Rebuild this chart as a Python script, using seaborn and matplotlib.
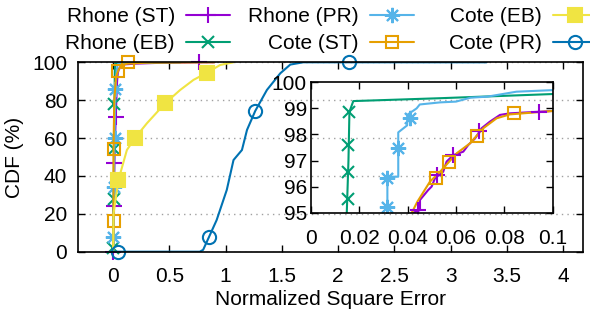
import matplotlib
matplotlib.use("Agg")
import matplotlib.pyplot as plt
from matplotlib.lines import Line2D
from matplotlib.ticker import FuncFormatter
import seaborn as sns

# ---------------- data ----------------
series_names = ["Rhone (ST)", "Rhone (EB)", "Rhone (PR)", "Cote (ST)", "Cote (EB)", "Cote (PR)"]

# CDF curves: x = normalized square error, y = CDF (%)
rhone_st_x = [0, 0.004, 0.012, 0.025, 0.035, 0.0423, 0.0451, 0.0451, 0.0485, 0.0499, 0.0513,
              0.0547, 0.0561, 0.0589, 0.063, 0.0651, 0.0679, 0.0706, 0.074, 0.0782, 0.0823,
              0.1, 0.2, 0.4, 0.76, 0.9]
rhone_st_y = [0, 20, 50, 75, 90, 95.0, 95.1, 95.49, 95.87, 96.0, 96.32, 96.57, 96.96, 97.21,
              97.34, 97.6, 97.85, 98.24, 98.49, 98.75, 98.81, 98.9, 99.3, 99.7, 100, 100]

rhone_eb_x = [0, 0.003, 0.008, 0.012, 0.0148, 0.0155, 0.0159, 0.0175, 0.0534, 0.1, 0.2, 0.4, 0.6]
rhone_eb_y = [0, 25, 55, 80, 95, 97, 98.87, 99.28, 99.39, 99.55, 99.75, 99.9, 100]

rhone_pr_x = [0, 0.002, 0.006, 0.012, 0.02, 0.0316, 0.0316, 0.0361, 0.0361, 0.0398, 0.0398,
              0.0437, 0.045, 0.0534, 0.06, 0.066, 0.073, 0.085, 0.1, 0.2, 0.35]
rhone_pr_y = [0, 8, 34, 60, 86, 95.0, 96.38, 96.38, 98.08, 98.35, 98.75, 99.0, 99.15, 99.23,
              99.26, 99.41, 99.45, 99.64, 99.7, 99.9, 100]

cote_st_x = [0, 0.003, 0.003, 0.01, 0.025, 0.035, 0.0417, 0.044, 0.0492, 0.0534, 0.0603,
             0.0658, 0.0713, 0.0768, 0.0823, 0.1, 0.13, 0.3, 0.9]
cote_st_y = [0, 16, 54, 80, 92, 94, 95.0, 95.42, 96.19, 96.57, 97.28, 97.66, 98.24, 98.62,
             98.77, 98.9, 99.3, 99.8, 100]

cote_eb_x = [0, 0.003, 0.047, 0.122, 0.196, 0.3, 0.463, 0.596, 0.714, 0.834, 0.952, 1.07]
cote_eb_y = [0, 20, 37.9, 53.7, 60.2, 67.8, 78.4, 85.4, 90.7, 94.5, 98.6, 100]

cote_pr_x = [0, 0.77, 0.80, 0.85, 0.92, 1.01, 1.07, 1.145, 1.19, 1.263, 1.367, 1.486, 1.575,
             1.69, 2.1, 3.32]
cote_pr_y = [0, 0, 1, 7.5, 16.7, 32.6, 48.4, 53.7, 64.3, 74.3, 85.4, 94.2, 98.8, 100, 100, 100]

# point markers shown on the main plot
rhone_st_mx = [0.0, 0.005, 0.011, 0.023, 0.76]
rhone_st_my = [0, 24, 47, 71, 100]
rhone_eb_mx = [0.0, 0.003, 0.007, 0.011]
rhone_eb_my = [2, 28, 54, 78]
rhone_pr_mx = [0.002, 0.006, 0.012, 0.02]
rhone_pr_my = [8, 34, 60, 86]
cote_st_mx = [0.003, 0.003, 0.04, 0.13]
cote_st_my = [16, 54, 95.5, 100]
cote_eb_mx = [0.047, 0.196, 0.463, 0.834]
cote_eb_my = [37.9, 60.2, 78.4, 94.5]
cote_pr_mx = [0.047, 0.85, 1.263, 2.1]
cote_pr_my = [0, 7.5, 74.3, 100]

# point markers shown on the inset
rhone_st_ix = [0.0444, 0.052, 0.0589, 0.0695, 0.0945]
rhone_st_iy = [95.1, 96.45, 97.2, 98.15, 98.87]
rhone_eb_ix = [0.01545, 0.0155, 0.0155, 0.0159]
rhone_eb_iy = [95.52, 96.55, 97.6, 98.85]
rhone_pr_ix = [0.0316, 0.0316, 0.0359, 0.041]
rhone_pr_iy = [95.23, 96.32, 97.49, 98.62]
cote_st_ix = [0.0517, 0.0571, 0.0688, 0.0841]
cote_st_iy = [96.34, 96.93, 97.95, 98.81]

main_xticks = [0, 0.5, 1, 1.5, 2, 2.5, 3, 3.5, 4]
main_yticks = [0, 20, 40, 60, 80, 100]
inset_xticks = [0, 0.02, 0.04, 0.06, 0.08, 0.1]
inset_yticks = [95, 96, 97, 98, 99, 100]

curves = [(rhone_st_x, rhone_st_y), (rhone_eb_x, rhone_eb_y), (rhone_pr_x, rhone_pr_y),
          (cote_st_x, cote_st_y), (cote_eb_x, cote_eb_y), (cote_pr_x, cote_pr_y)]
main_marks = [(rhone_st_mx, rhone_st_my), (rhone_eb_mx, rhone_eb_my), (rhone_pr_mx, rhone_pr_my),
              (cote_st_mx, cote_st_my), (cote_eb_mx, cote_eb_my), (cote_pr_mx, cote_pr_my)]
inset_marks = [(rhone_st_ix, rhone_st_iy), (rhone_eb_ix, rhone_eb_iy), (rhone_pr_ix, rhone_pr_iy),
               (cote_st_ix, cote_st_iy)]

# ---------------- styles ----------------
styles = [
    dict(color="#9400D3", marker="+", ms=11, mfc="none"),
    dict(color="#009E73", marker="x", ms=9, mfc="none"),
    dict(color="#56B4E9", marker=(8, 2, 0), ms=11, mfc="none"),
    dict(color="#E69F00", marker="s", ms=9, mfc="none"),
    dict(color="#F0E442", marker="s", ms=10, mfc="#F0E442"),
    dict(color="#0072B2", marker="o", ms=9.5, mfc="none"),
]
LW = 1.5
MEW = 1.5

sns.set_style("ticks")
plt.rcParams["font.family"] = ["Liberation Sans", "DejaVu Sans"]
plt.rcParams["font.size"] = 15
plt.rcParams["text.color"] = "black"
plt.rcParams["axes.labelcolor"] = "black"
plt.rcParams["xtick.color"] = "black"
plt.rcParams["ytick.color"] = "black"

W, H = 590, 325
fig = plt.figure(figsize=(W / 100, H / 100), dpi=100)


def fx(px):
    return px / W


def fy(py):
    return 1 - py / H


ax = fig.add_axes([fx(78.3), fy(251.7), fx(583.3) - fx(78.3), fy(62.3) - fy(251.7)])
axin = fig.add_axes([fx(311), fy(212.7), fx(552.7) - fx(311), fy(82.3) - fy(212.7)])
axin.patch.set_alpha(0)

fmt = FuncFormatter(lambda v, p: "%g" % v)

# main plot
for (cx, cy), (mx, my), st in zip(curves, main_marks, styles):
    sns.lineplot(x=cx, y=cy, ax=ax, color=st["color"], lw=LW, estimator=None, sort=False)
    sns.lineplot(x=mx, y=my, ax=ax, color=st["color"], linestyle="none", marker=st["marker"],
                 markersize=st["ms"], markeredgewidth=MEW, markeredgecolor=st["color"],
                 markerfacecolor=st["mfc"], estimator=None, sort=False, clip_on=False)

ax.set_xlim(-0.31, 4.18)
ax.set_ylim(0, 100)
ax.set_xticks(main_xticks)
ax.set_yticks(main_yticks)
ax.xaxis.set_major_formatter(fmt)
ax.yaxis.set_major_formatter(fmt)
ax.yaxis.grid(True, linestyle=(0, (1, 3)), color="#a0a0a0", lw=1)
ax.set_axisbelow(True)
ax.tick_params(direction="in", length=5, width=1, top=True, right=True, labelsize=15,
               colors="black", labelcolor="black")
ax.tick_params(axis="x", pad=11)
ax.tick_params(axis="y", pad=8)
ax.set_xlabel("Normalized Square Error", fontsize=15, labelpad=3, color="black")
ax.set_ylabel("CDF (%)", fontsize=15, labelpad=6, color="black")
for s in ax.spines.values():
    s.set_linewidth(1.2)
    s.set_color("black")

# inset
for (cx, cy), st in zip(curves[:4], styles[:4]):
    sns.lineplot(x=cx, y=cy, ax=axin, color=st["color"], lw=LW, estimator=None, sort=False)
for (mx, my), st in zip(inset_marks, styles[:4]):
    sns.lineplot(x=mx, y=my, ax=axin, color=st["color"], linestyle="none", marker=st["marker"],
                 markersize=st["ms"], markeredgewidth=MEW, markeredgecolor=st["color"],
                 markerfacecolor=st["mfc"], estimator=None, sort=False)
axin.set_xlim(0, 0.1)
axin.set_ylim(95, 100)
axin.set_xticks(inset_xticks)
axin.set_yticks(inset_yticks)
axin.xaxis.set_major_formatter(fmt)
axin.yaxis.set_major_formatter(fmt)
axin.tick_params(direction="in", length=5, width=1, top=True, right=True, labelsize=15,
                 colors="black", labelcolor="black")
axin.tick_params(axis="x", pad=12)
axin.tick_params(axis="y", pad=3)
for s in axin.spines.values():
    s.set_linewidth(1.2)
    s.set_color("black")

# legend: 3 columns x 2 rows, text on the left of the sample, right aligned
col_right = [230, 413.5, 597]
row_y = [17, 43.5]
for i, (name, st) in enumerate(zip(series_names, styles)):
    col, row = i // 2, i % 2
    h = Line2D([], [], color=st["color"], lw=LW, marker=st["marker"], ms=st["ms"],
               mew=MEW, mec=st["color"], mfc=st["mfc"])
    fig.legend([h], [name], loc="center right", bbox_to_anchor=(fx(col_right[col]), fy(row_y[row])),
               markerfirst=False, frameon=False, fontsize=15, handlelength=2.1,
               handletextpad=0.55, borderpad=0, borderaxespad=0, numpoints=1,
               labelcolor="black")

fig.savefig("out.png", dpi=100)
